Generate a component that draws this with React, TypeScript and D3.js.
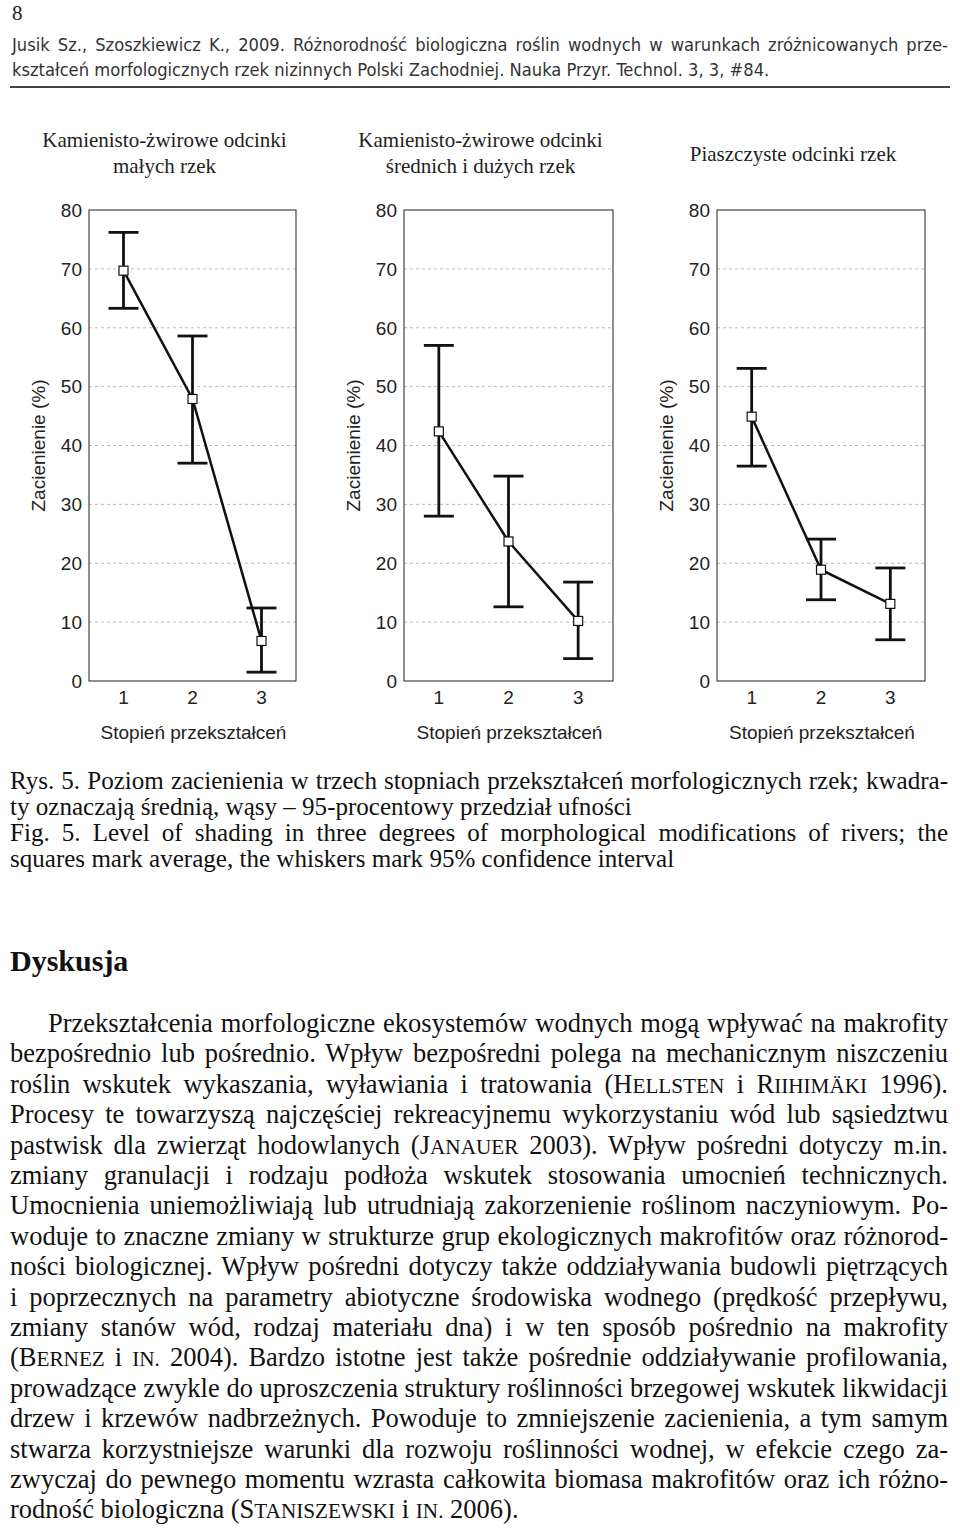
import { useEffect, useRef } from "react";
import * as d3 from "d3";

// ─── Data ─────────────────────────────────────────────────────────────────────

const DEGREES = [1, 2, 3];
const Y_TICKS = [0, 10, 20, 30, 40, 50, 60, 70, 80];
const GRID_TICKS = [10, 20, 30, 40, 50, 60, 70];

const TITLE_SMALL = ["Kamienisto-żwirowe odcinki", "małych rzek"];
const TITLE_LARGE = ["Kamienisto-żwirowe odcinki", "średnich i dużych rzek"];
const TITLE_SAND = ["Piaszczyste odcinki rzek"];

// mean / lower / upper 95% CI
const MEAN_SMALL = [69.7, 47.9, 6.8];
const LOW_SMALL = [63.3, 37.0, 1.5];
const HIGH_SMALL = [76.2, 58.6, 12.4];

const MEAN_LARGE = [42.4, 23.7, 10.2];
const LOW_LARGE = [28.0, 12.6, 3.8];
const HIGH_LARGE = [57.0, 34.8, 16.8];

const MEAN_SAND = [44.9, 18.9, 13.1];
const LOW_SAND = [36.5, 13.8, 7.0];
const HIGH_SAND = [53.1, 24.1, 19.2];

const Y_LABEL = "Zacienienie (%)";
const X_LABEL = "Stopień przekształceń";

const HEADER_LINES = [
  "Jusik Sz., Szoszkiewicz K., 2009. Różnorodność biologiczna roślin wodnych w warunkach zróżnicowanych prze-",
  "kształceń morfologicznych rzek nizinnych Polski Zachodniej. Nauka Przyr. Technol. 3, 3, #84.",
];

const CAPTION_LINES = [
  "Rys. 5. Poziom zacienienia w trzech stopniach przekształceń morfologicznych rzek; kwadra-",
  "ty oznaczają średnią, wąsy – 95-procentowy przedział ufności",
  "Fig. 5. Level of shading in three degrees of morphological modifications of rivers; the",
  "squares mark average, the whiskers mark 95% confidence interval",
];

// {…} = small caps
const BODY_LINES = [
  "Przekształcenia morfologiczne ekosystemów wodnych mogą wpływać na makrofity",
  "bezpośrednio lub pośrednio. Wpływ bezpośredni polega na mechanicznym niszczeniu",
  "roślin wskutek wykaszania, wyławiania i tratowania ({Hellsten} i {Riihimäki} 1996).",
  "Procesy te towarzyszą najczęściej rekreacyjnemu wykorzystaniu wód lub sąsiedztwu",
  "pastwisk dla zwierząt hodowlanych ({Janauer} 2003). Wpływ pośredni dotyczy m.in.",
  "zmiany granulacji i rodzaju podłoża wskutek stosowania umocnień technicznych.",
  "Umocnienia uniemożliwiają lub utrudniają zakorzenienie roślinom naczyniowym. Po-",
  "woduje to znaczne zmiany w strukturze grup ekologicznych makrofitów oraz różnorod-",
  "ności biologicznej. Wpływ pośredni dotyczy także oddziaływania budowli piętrzących",
  "i poprzecznych na parametry abiotyczne środowiska wodnego (prędkość przepływu,",
  "zmiany stanów wód, rodzaj materiału dna) i w ten sposób pośrednio na makrofity",
  "({Bernez} i {in.} 2004). Bardzo istotne jest także pośrednie oddziaływanie profilowania,",
  "prowadzące zwykle do uproszczenia struktury roślinności brzegowej wskutek likwidacji",
  "drzew i krzewów nadbrzeżnych. Powoduje to zmniejszenie zacienienia, a tym samym",
  "stwarza korzystniejsze warunki dla rozwoju roślinności wodnej, w efekcie czego za-",
  "zwyczaj do pewnego momentu wzrasta całkowita biomasa makrofitów oraz ich różno-",
  "rodność biologiczna ({Staniszewski} i {in.} 2006).",
];

// ─── Layout ───────────────────────────────────────────────────────────────────

const W = 960,
  H = 1532;
const SERIF = "Liberation Serif";
const SANS = "Liberation Sans";

const PANELS = [
  { title: TITLE_SMALL, mean: MEAN_SMALL, low: LOW_SMALL, high: HIGH_SMALL, left: 89, right: 296 },
  { title: TITLE_LARGE, mean: MEAN_LARGE, low: LOW_LARGE, high: HIGH_LARGE, left: 404, right: 613 },
  { title: TITLE_SAND, mean: MEAN_SAND, low: LOW_SAND, high: HIGH_SAND, left: 717, right: 925 },
];
const PLOT_TOP = 210;
const PLOT_BOTTOM = 681;

interface Block {
  lines: string[];
  x: number;
  right: number;
  baselines: number[];
  indent?: number[];
  justify: boolean[];
  family: string;
  size: number;
  fill: string;
  refIndex: number;
  refWidth: number;
}

type Sel = d3.Selection<SVGSVGElement, unknown, null, undefined>;

// Small caps: capitals stay full size, lower-case letters become smaller capitals
function appendSmallCaps(t: d3.Selection<SVGTextElement, unknown, null, undefined>, s: string) {
  const runs = s.match(/[^a-ząćęłńóśźżä.]+|[a-ząćęłńóśźżä.]+/g) || [];
  runs.forEach((r) => {
    if (/^[a-ząćęłńóśźżä.]+$/.test(r))
      t.append("tspan").attr("font-size", "0.8em").text(r.toUpperCase());
    else t.append("tspan").text(r);
  });
}

function drawBlock(svg: Sel, b: Block) {
  const g = svg.append("g");
  const nodes = b.lines.map((line) => {
    const t = g
      .append("text")
      .attr("font-family", b.family)
      .attr("font-size", b.size)
      .attr("fill", b.fill)
      .style("white-space", "pre");
    line
      .split(/(\{[^}]+\})/)
      .filter(Boolean)
      .forEach((seg) => {
        if (seg.startsWith("{")) appendSmallCaps(t, seg.slice(1, -1));
        else t.append("tspan").text(seg);
      });
    return t;
  });

  // scale the font so that the reference line has the measured width
  const natural = (nodes[b.refIndex].node() as SVGTextElement).getComputedTextLength();
  const size = (b.size * b.refWidth) / natural;

  nodes.forEach((t, i) => {
    const x = b.x + (b.indent?.[i] ?? 0);
    t.attr("font-size", size).attr("x", x).attr("y", b.baselines[i]);
    if (b.justify[i]) {
      const w = (t.node() as SVGTextElement).getComputedTextLength();
      const spaces = (b.lines[i].match(/ /g) || []).length;
      if (spaces > 0) t.style("word-spacing", `${(b.right - x - w) / spaces}px`);
    }
  });
}

// ─── Component ────────────────────────────────────────────────────────────────

export default function App() {
  const svgRef = useRef<SVGSVGElement>(null);

  useEffect(() => {
    if (!svgRef.current) return;
    const svg = d3.select(svgRef.current);
    svg.selectAll("*").remove();

    svg.append("rect").attr("width", W).attr("height", H).attr("fill", "#fff");

    // ── Page header ──────────────────────────────────────────────────────────
    svg
      .append("text")
      .attr("x", 12)
      .attr("y", 20)
      .attr("font-family", SERIF)
      .attr("font-size", 21)
      .attr("fill", "#222")
      .text("8");

    drawBlock(svg, {
      lines: HEADER_LINES,
      x: 12,
      right: 948,
      baselines: [51, 76],
      justify: [true, false],
      family: "DejaVu Sans Condensed",
      size: 16,
      fill: "#333",
      refIndex: 1,
      refWidth: 758,
    });

    svg
      .append("line")
      .attr("x1", 10)
      .attr("x2", 950)
      .attr("y1", 87)
      .attr("y2", 87)
      .attr("stroke", "#444")
      .attr("stroke-width", 2);

    // ── Panels ───────────────────────────────────────────────────────────────
    PANELS.forEach((p) => {
      const x = d3.scaleLinear().domain([0.5, 3.5]).range([p.left, p.right]);
      const y = d3.scaleLinear().domain([0, 80]).range([PLOT_BOTTOM, PLOT_TOP]);
      const g = svg.append("g");
      const cx = (p.left + p.right) / 2;

      // title
      const titleTop = p.title.length === 1 ? 161 : 147;
      p.title.forEach((t, i) => {
        g.append("text")
          .attr("x", cx - 28)
          .attr("y", titleTop + i * 26)
          .attr("text-anchor", "middle")
          .attr("font-family", SERIF)
          .attr("font-size", 21)
          .attr("fill", "#222")
          .text(t);
      });

      // grid
      g.selectAll(".grid")
        .data(GRID_TICKS)
        .enter()
        .append("line")
        .attr("x1", p.left)
        .attr("x2", p.right)
        .attr("y1", (d) => y(d))
        .attr("y2", (d) => y(d))
        .attr("stroke", "#aaa")
        .attr("stroke-width", 0.8)
        .attr("stroke-dasharray", "3,3");

      // frame
      g.append("rect")
        .attr("x", p.left)
        .attr("y", PLOT_TOP)
        .attr("width", p.right - p.left)
        .attr("height", PLOT_BOTTOM - PLOT_TOP)
        .attr("fill", "none")
        .attr("stroke", "#333")
        .attr("stroke-width", 1.1);

      // y ticks
      g.selectAll(".yt")
        .data(Y_TICKS)
        .enter()
        .append("text")
        .attr("x", p.left - 7)
        .attr("y", (d) => y(d))
        .attr("dy", "0.36em")
        .attr("text-anchor", "end")
        .attr("font-family", SANS)
        .attr("font-size", 19)
        .attr("fill", "#222")
        .text((d) => d);

      // x ticks
      g.selectAll(".xt")
        .data(DEGREES)
        .enter()
        .append("text")
        .attr("x", (d) => x(d))
        .attr("y", 704)
        .attr("text-anchor", "middle")
        .attr("font-family", SANS)
        .attr("font-size", 19)
        .attr("fill", "#222")
        .text((d) => d);

      // axis titles
      g.append("text")
        .attr("x", x(2) + 1)
        .attr("y", 739)
        .attr("text-anchor", "middle")
        .attr("font-family", SANS)
        .attr("font-size", 19)
        .attr("fill", "#222")
        .text(X_LABEL);

      g.append("text")
        .attr("transform", `translate(${p.left - 44},${(PLOT_TOP + PLOT_BOTTOM) / 2}) rotate(-90)`)
        .attr("text-anchor", "middle")
        .attr("font-family", SANS)
        .attr("font-size", 19)
        .attr("fill", "#222")
        .text(Y_LABEL);

      // whiskers
      const cap = 15;
      DEGREES.forEach((d, i) => {
        g.append("line")
          .attr("x1", x(d))
          .attr("x2", x(d))
          .attr("y1", y(p.low[i]))
          .attr("y2", y(p.high[i]))
          .attr("stroke", "#111")
          .attr("stroke-width", 2.8);
        [p.low[i], p.high[i]].forEach((v) => {
          g.append("line")
            .attr("x1", x(d) - cap)
            .attr("x2", x(d) + cap)
            .attr("y1", y(v))
            .attr("y2", y(v))
            .attr("stroke", "#111")
            .attr("stroke-width", 2.8);
        });
      });

      // mean line
      const line = d3
        .line<number>()
        .x((_, i) => x(DEGREES[i]))
        .y((v) => y(v));
      g.append("path")
        .attr("d", line(p.mean))
        .attr("fill", "none")
        .attr("stroke", "#111")
        .attr("stroke-width", 2.5);

      // mean squares
      const s = 9;
      g.selectAll(".pt")
        .data(p.mean)
        .enter()
        .append("rect")
        .attr("x", (_, i) => x(DEGREES[i]) - s / 2)
        .attr("y", (v) => y(v) - s / 2)
        .attr("width", s)
        .attr("height", s)
        .attr("fill", "#fff")
        .attr("stroke", "#111")
        .attr("stroke-width", 1.2);
    });

    // ── Caption ──────────────────────────────────────────────────────────────
    drawBlock(svg, {
      lines: CAPTION_LINES,
      x: 10,
      right: 948,
      baselines: [789, 815, 841, 867],
      justify: [true, false, true, false],
      family: SERIF,
      size: 22,
      fill: "#111",
      refIndex: 1,
      refWidth: 622,
    });

    // ── Discussion ───────────────────────────────────────────────────────────
    svg
      .append("text")
      .attr("x", 10)
      .attr("y", 971)
      .attr("font-family", SERIF)
      .attr("font-size", 30)
      .attr("font-weight", 700)
      .attr("fill", "#111")
      .text("Dyskusja");

    drawBlock(svg, {
      lines: BODY_LINES,
      x: 10,
      right: 948,
      baselines: BODY_LINES.map((_, i) => 1032 + i * 30.4),
      indent: BODY_LINES.map((_, i) => (i === 0 ? 38 : 0)),
      justify: BODY_LINES.map((_, i) => i < BODY_LINES.length - 1),
      family: SERIF,
      size: 22,
      fill: "#111",
      refIndex: 12,
      refWidth: 938,
    });
  }, []);

  return (
    <svg
      ref={svgRef}
      width={W}
      height={H}
      style={{ position: "absolute", left: 0, top: 0, display: "block" }}
    />
  );
}
